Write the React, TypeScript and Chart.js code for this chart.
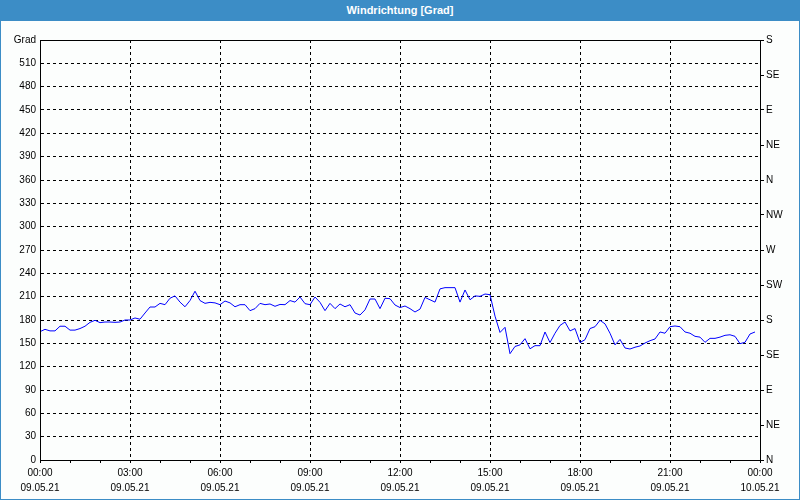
import React, { useEffect, useRef } from "react";
import { Chart, registerables } from "chart.js";

Chart.register(...registerables);

const TITLE = "Windrichtung [Grad]";
const START_MINUTES = 0;
const INTERVAL_MINUTES = 10;

const windDirection: number[] = [
  165, 168, 166, 166, 172, 172, 167, 167, 169, 172,
  177, 179.6, 176.6, 177.4, 177.4, 177, 177.4, 180,
  180, 182.6, 181, 189, 196.7, 196.7, 201.4, 199.7, 208, 211,
  203, 197, 205, 217, 205, 201.4, 202.7, 202,
  199.7, 204.4, 202, 197, 199.7, 199.7, 192, 194.6, 201.4, 199.7,
  200.6, 197.6, 200, 199.7, 205, 203, 209.6, 201,
  199.7, 209.6, 202.7, 192, 201.4, 194.6, 200.6, 197, 199.7, 189,
  186.4, 193, 207, 207, 194.6, 208, 207.4, 199.3,
  196, 198, 194.6, 190.3, 194, 209, 206, 203, 220, 221.6,
  221.6, 221.6, 203, 218.6, 206, 211, 210.4, 213.4,
  212.6, 185, 164, 170.6, 136.7, 146, 148, 156, 143, 147,
  147, 164.6, 151, 163, 173, 177.4, 166, 169,
  151, 154.7, 169, 171.4, 179.6, 175, 163, 148, 155, 144,
  142.7, 145, 146.6, 150.4, 153.4, 155.6, 164.6, 163,
  171.4, 172.3, 171.4, 164.6, 163, 159, 158, 151.3, 156.4, 156.4,
  158, 160.3, 161, 159, 149.6, 151.3, 162, 164.6,
];

const timeLabels: string[] = ["00:00", "03:00", "06:00", "09:00", "12:00", "15:00", "18:00", "21:00", "00:00"];
const dateLabels: string[] = ["09.05.21", "09.05.21", "09.05.21", "09.05.21", "09.05.21", "09.05.21", "09.05.21", "09.05.21", "10.05.21"];
const compassLabels: string[] = ["N", "NE", "E", "SE", "S", "SW", "W", "NW", "N", "NE", "E", "SE", "S"];
const Y_MAX = 540;
const Y_STEP = 30;
const COMPASS_STEP = 45;
const X_MAX = 1440;
const LABEL_STEP = 180;

const FONT = "'Liberation Sans', Arial, sans-serif";

const frame = {
  id: "frame",
  afterDraw(chart: any) {
    const { ctx, chartArea } = chart;
    ctx.save();
    ctx.strokeStyle = "#000";
    ctx.lineWidth = 1;
    ctx.setLineDash([]);
    ctx.strokeRect(
      Math.round(chartArea.left) + 0.5,
      Math.round(chartArea.top) + 0.5,
      Math.round(chartArea.right - chartArea.left),
      Math.round(chartArea.bottom - chartArea.top)
    );
    ctx.restore();
  },
};

export default function App() {
  const ref = useRef<HTMLCanvasElement | null>(null);

  useEffect(() => {
    if (!ref.current) return;
    const points = windDirection.map((v, i) => ({ x: START_MINUTES + i * INTERVAL_MINUTES, y: v }));
    const chart = new Chart(ref.current, {
      type: "line",
      data: {
        datasets: [
          {
            data: points,
            borderColor: "#0000ff",
            borderWidth: 1,
            pointRadius: 0,
            tension: 0,
            fill: false,
            yAxisID: "y",
          },
        ],
      },
      options: {
        animation: false,
        responsive: false,
        maintainAspectRatio: false,
        layout: { padding: { top: 19, left: 0, right: 0, bottom: 0 } },
        plugins: { legend: { display: false }, tooltip: { enabled: false }, title: { display: false } },
        scales: {
          x: {
            type: "linear",
            min: 0,
            max: X_MAX,
            afterFit: (s: any) => { s.height = 40; },
            afterBuildTicks: (s: any) => {
              const t = [];
              for (let v = 0; v <= X_MAX; v += 60) t.push({ value: v });
              s.ticks = t;
            },
            ticks: {
              autoSkip: false,
              maxRotation: 0,
              minRotation: 0,
              padding: 3,
              color: "#000",
              font: { family: FONT, size: 10, lineHeight: 1.5 },
              callback: (v: any) => {
                const n = Number(v);
                if (n % LABEL_STEP !== 0) return "";
                const k = n / LABEL_STEP;
                return [timeLabels[k], dateLabels[k]];
              },
            },
            grid: {
              color: (c: any) => (c.tick && c.tick.value % LABEL_STEP === 0 ? "#000" : "rgba(0,0,0,0)"),
              tickColor: "#000",
              tickLength: 3,
              lineWidth: 1,
              borderDash: [3, 3],
            } as any,
            border: { display: true, color: "#000", width: 1, dash: [3, 3] } as any,
          },
          y: {
            type: "linear",
            position: "left",
            min: 0,
            max: Y_MAX,
            afterFit: (s: any) => { s.width = 40; },
            ticks: {
              stepSize: Y_STEP,
              padding: 4,
              color: "#000",
              font: { family: FONT, size: 10 },
              callback: (v: any) => (Number(v) === Y_MAX ? "Grad" : String(v)),
            },
            grid: {
              color: "#000",
              drawTicks: false,
              lineWidth: 1,
              borderDash: [3, 3],
            } as any,
            border: { display: true, color: "#000", width: 1, dash: [3, 3] } as any,
          },
          y2: {
            type: "linear",
            position: "right",
            min: 0,
            max: Y_MAX,
            afterFit: (s: any) => { s.width = 40; },
            ticks: {
              stepSize: COMPASS_STEP,
              padding: 2,
              color: "#000",
              font: { family: FONT, size: 10 },
              callback: (v: any) => compassLabels[Math.round(Number(v) / COMPASS_STEP)] ?? "",
            },
            grid: {
              drawOnChartArea: false,
              tickColor: "#000",
              tickLength: 4,
            },
            border: { display: true, color: "#000", width: 1 },
          },
        },
      },
      plugins: [frame],
    } as any);
    return () => chart.destroy();
  }, []);

  return (
    <div
      style={{
        position: "fixed",
        left: 0,
        top: 0,
        width: 800,
        height: 500,
        background: "#fcfefd",
        overflow: "hidden",
      }}
    >
      <div
        style={{
          position: "absolute",
          left: 0,
          top: 0,
          width: 800,
          height: 21,
          background: "#3c8dc6",
          color: "#fff",
          fontFamily: FONT,
          fontWeight: "bold",
          fontSize: 11,
          lineHeight: "20px",
          textAlign: "center",
        }}
      >
        {TITLE}
      </div>
      <canvas
        ref={ref}
        width={800}
        height={479}
        style={{ position: "absolute", left: 0, top: 21, width: 800, height: 479 }}
      />
      <div
        style={{
          position: "absolute",
          left: 0,
          top: 0,
          width: 800,
          height: 500,
          boxSizing: "border-box",
          borderLeft: "1px solid #3c8dc6",
          borderRight: "1px solid #3c8dc6",
          borderBottom: "1px solid #3c8dc6",
          pointerEvents: "none",
        }}
      />
    </div>
  );
}
